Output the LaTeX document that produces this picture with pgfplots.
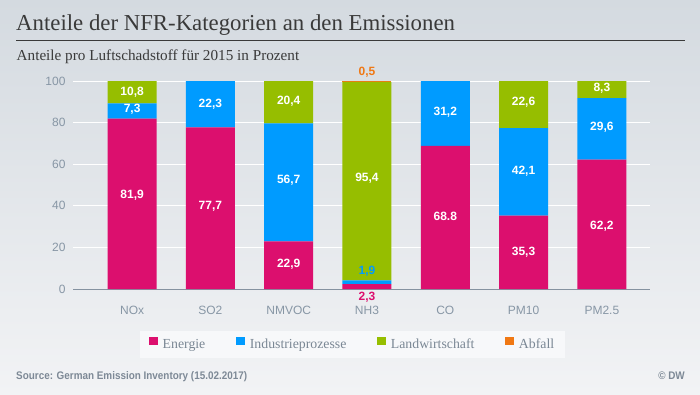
\documentclass[border=0pt]{standalone}
\usepackage{fontspec}
\setmainfont{Liberation Serif}
\newfontfamily\arial{Liberation Sans}
\usepackage{pgfplots}
\usepackage{pgfplotstable}
\pgfplotsset{compat=1.18}
\definecolor{cE}{HTML}{DC0F6E}
\definecolor{cI}{HTML}{009BFF}
\definecolor{cL}{HTML}{96BE00}
\definecolor{cA}{HTML}{F07814}
\definecolor{bgtop}{HTML}{D4DAE0}
\definecolor{bgbot}{HTML}{F2F3F5}
\definecolor{tickgray}{HTML}{8796A5}
\definecolor{axgray}{HTML}{8592A0}
\definecolor{leggray}{HTML}{7A8794}
\definecolor{legbg}{HTML}{F7F8FA}
\definecolor{titlegray}{HTML}{3A3A3A}
\definecolor{srcgray}{HTML}{7D8996}

\pgfplotstableread{
x Energie Industrie Land Abfall
0 81.9 7.3 10.8 0
1 77.7 22.3 0 0
2 22.9 56.7 20.4 0
3 2.3 1.9 95.4 0.5
4 68.8 31.2 0 0
5 35.3 42.1 22.6 0
6 62.2 29.6 8.3 0
}\datatable

\pgfplotstableread{
x y lab
0 45.0 81,9
0 86.4 7,3
0 94.6 10,8
1 39.9 77,7
1 88.8 22,3
2 11.9 22,9
2 52.4 56,7
2 90.1 20,4
3 53.2 95,4
4 34.8 68.8
4 84.8 31,2
5 17.9 35,3
5 56.4 42,1
5 89.6 22,6
6 30.0 62,2
6 77.6 29,6
6 96.5 8,3
}\whitelabels

\pgfplotstableread{
x y lab
3 -4.2 2,3
}\labE
\pgfplotstableread{
x y lab
3 8.3 1,9
}\labI
\pgfplotstableread{
x y lab
3 104.3 0,5
}\labA

\begin{document}
\begin{tikzpicture}
\shade[top color=bgtop,bottom color=bgbot] (0pt,0pt) rectangle (700pt,394pt);
\node[anchor=base west,inner sep=0pt,font=\fontsize{22.8}{24}\selectfont,text=titlegray] at (16pt,363pt) {Anteile der NFR-Kategorien an den Emissionen};
\draw[titlegray,line width=0.8pt] (16pt,353.3pt) -- (685pt,353.3pt);
\node[anchor=base west,inner sep=0pt,font=\fontsize{15.2}{16}\selectfont,text=titlegray] at (16.5pt,333.5pt) {Anteile pro Luftschadstoff für 2015 in Prozent};
\node[anchor=base west,inner sep=0pt,font=\arial\bfseries\fontsize{11}{12}\selectfont,text=srcgray] at (16pt,15pt) {\scalebox{0.9}[1]{Source: German Emission Inventory (15.02.2017)}};
\node[anchor=base east,inner sep=0pt,font=\arial\bfseries\fontsize{11}{12}\selectfont,text=srcgray] at (685pt,15pt) {\scalebox{0.9}[1]{© DW}};

\begin{axis}[
  at={(73pt,105pt)}, anchor=south west,
  scale only axis, width=577pt, height=208pt,
  ybar stacked, bar width=49pt,
  xmin=-0.755, xmax=6.615, ymin=0, ymax=100,
  ytick={0,20,40,60,80,100},
  xtick={0,1,2,3,4,5,6},
  xticklabels={NOx,SO2,NMVOC,NH3,CO,PM10,PM2.5},
  axis lines=left, axis line style={-},
  y axis line style={draw=none},
  x axis line style={draw=axgray,line width=1pt},
  major tick length=0pt,
  ymajorgrids, grid style={white,line width=1pt},
  /pgf/number format/assume math mode=true,
  tick label style={font=\arial\fontsize{12}{12}\selectfont,text=tickgray},
  x tick label style={yshift=-14pt},
  y tick label style={xshift=-4pt},
  every axis plot post/.append style={legend image code/.code={\fill[##1] (0pt,-0.5pt) rectangle (8.5pt,8pt);}},
  legend style={at={(axis description cs:0.1161,-0.2019)}, anchor=north west,
    fill=legbg, draw=none, inner xsep=9pt, inner ysep=5.5pt,
    font=\fontsize{13.8}{14}\selectfont, text=leggray,
    legend columns=4, column sep=3pt,
    /tikz/every even column/.append style={column sep=29pt}},
  legend cell align=left,
]
\addplot+[fill=cE,draw=none] table[x=x,y=Energie]{\datatable};
\addplot+[fill=cI,draw=none] table[x=x,y=Industrie]{\datatable};
\addplot+[fill=cL,draw=none] table[x=x,y=Land]{\datatable};
\addplot+[fill=cA,draw=none] table[x=x,y=Abfall]{\datatable};
\legend{Energie,Industrieprozesse,Landwirtschaft,Abfall}
\end{axis}

\begin{axis}[
  at={(73pt,105pt)}, anchor=south west,
  scale only axis, width=577pt, height=208pt,
  xmin=-0.755, xmax=6.615, ymin=0, ymax=100,
  hide axis, clip=false,
  nodes near coords, point meta=explicit symbolic,
  every node near coord/.append style={anchor=center,font=\arial\bfseries\fontsize{12}{12}\selectfont},
]
\addplot[only marks,mark=none,nodes near coords style={text=white}] table[x=x,y=y,meta=lab]{\whitelabels};
\addplot[only marks,mark=none,nodes near coords style={text=cE}] table[x=x,y=y,meta=lab]{\labE};
\addplot[only marks,mark=none,nodes near coords style={text=cI}] table[x=x,y=y,meta=lab]{\labI};
\addplot[only marks,mark=none,nodes near coords style={text=cA}] table[x=x,y=y,meta=lab]{\labA};
\end{axis}
\end{tikzpicture}
\end{document}
